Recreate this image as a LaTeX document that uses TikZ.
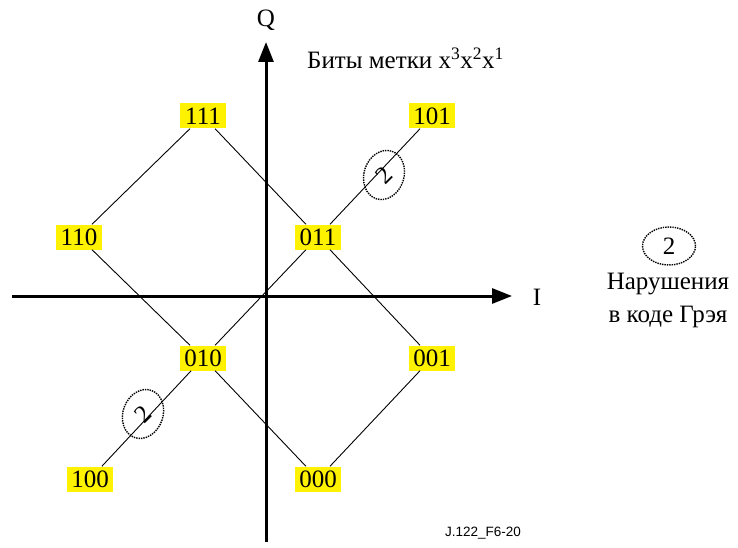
\documentclass[tikz,border=0pt]{standalone}
\usepackage{fontspec}
\setmainfont{Liberation Serif}
\newfontfamily\sansf{Liberation Sans}
\usetikzlibrary{arrows.meta,shapes.geometric}
\begin{document}
\begin{tikzpicture}[x=1pt,y=-1pt,
  lab/.style={fill=yellow, inner sep=0pt, minimum width=46pt, minimum height=25pt, font=\fontsize{25}{27}\selectfont},
  conn/.style={line width=0.9pt},
  axis/.style={line width=3pt, -{Triangle[length=20pt,width=15pt]}},
  viol/.style={draw, ellipse, densely dotted, line width=1.4pt, inner sep=0pt, minimum width=40pt, minimum height=50pt},
  txt/.style={font=\fontsize{25}{27}\selectfont, inner sep=0pt}]
\useasboundingbox (0,0) rectangle (738,548);
% axes
\coordinate (yb) at (266,542);
\coordinate (yt) at (266,42);
\coordinate (xl) at (12,296);
\coordinate (xr) at (512,296);
\draw[axis] (yb) -- (yt);
\draw[axis] (xl) -- (xr);
\node[txt] (Q) at (266,20) {Q};
\node[txt] (I) at (537,297) {I};
\node[txt, anchor=west] (bits) at (307,58) {Биты метки x\textsuperscript{3}x\textsuperscript{2}x\textsuperscript{1}};
% points
\node[lab] (n111) at (203,116) {111};
\node[lab] (n101) at (432,116) {101};
\node[lab] (n110) at (79,237) {110};
\node[lab] (n011) at (318,237) {011};
\node[lab] (n010) at (203,358) {010};
\node[lab] (n001) at (432,358) {001};
\node[lab] (n100) at (90,479) {100};
\node[lab] (n000) at (318,479) {000};
% connectors
\draw[conn] (n111) -- (n110);
\draw[conn] (n111) -- (n011);
\draw[conn] (n011) -- (n001);
\draw[conn] (n110) -- (n010);
\draw[conn] (n010) -- (n000);
\draw[conn] (n001) -- (n000);
\draw[conn] (n100) -- (n010);
\draw[conn] (n010) -- (n011);
\draw[conn] (n011) -- (n101);
% violation marks
\node[viol, rotate=-18] (v1) at (384,175) {};
\node[txt, rotate=45] (v1t) at (384,175) {2};
\node[viol, rotate=-20] (v2) at (143,414) {};
\node[txt, rotate=45] (v2t) at (143,414) {2};
% legend
\node[draw, ellipse, densely dotted, line width=1.4pt, inner sep=0pt, minimum width=53pt, minimum height=38pt, txt] (leg) at (669,246) {2};
\node[txt] (leg1) at (668,284) {Нарушения};
\node[txt] (leg2) at (668,317) {в коде Грэя};
\node[font=\sansf\fontsize{13.5}{15}\selectfont, inner sep=0pt] (fig) at (483,533) {J.122\_F6-20};
\end{tikzpicture}
\end{document}
